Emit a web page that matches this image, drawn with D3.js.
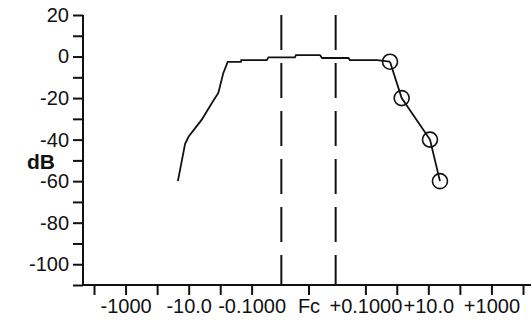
<!DOCTYPE html>
<html>
<head>
<meta charset="utf-8">
<script src="https://cdn.jsdelivr.net/npm/d3@7"></script>
<style>
  body { margin: 0; background: #fff; }
  text { font-family: "Liberation Sans", Arial, sans-serif; fill: #111; }
</style>
</head>
<body>
<svg id="chart"></svg>
<script>
const WIDTH = 531;
const HEIGHT = 323;

// frequency offset ticks (log-like around Fc)
const TICK_VALUES = [-10000, -1000, -100, -10, -1, -0.1, 0, 0.1, 1, 10, 100, 1000, 10000];
const TICK_LABELS = ["", "-1000", "", "-10.0", "", "-0.1000", "Fc", "+0.1000", "", "+10.0", "", "+1000", ""];
const Y_TICKS = [20, 10, 0, -10, -20, -30, -40, -50, -60, -70, -80, -90, -100, -110];

// filter response curve
const curveOffset = [-22, -13, -10, -3.9, -1.7, -1.15, -0.8, -0.58, -0.22, -0.215, -0.032, -0.028, -0.0027, -0.0024, 0.0021, 0.0027, 0.028, 0.031, 0.235, 0.61];
const curveDb = [-60, -42, -38.5, -30.5, -21.5, -17.5, -8, -2.6, -2.6, -1.7, -1.7, -0.4, -0.4, 0.7, 0.7, -0.7, -0.7, -1.7, -1.7, -2.5];

// measured points (circles)
const markOffset = [0.61, 1.43, 11.3, 23.4];
const markDb = [-2.5, -20, -40, -60];

// bandwidth markers
const bandEdges = [-0.01, 0.01];

const svg = d3.select("#chart").attr("width", WIDTH).attr("height", HEIGHT);

const x = d3.scaleSymlog().constant(0.0016).domain([-10000, 10000]).range([94, 523]);
const y = d3.scaleLinear().domain([-110, 20]).range([285, 15]);

// y axis
const yAxis = svg.append("g")
  .attr("transform", "translate(83,0)")
  .call(d3.axisLeft(y).tickValues(Y_TICKS).tickSize(10).tickPadding(4)
    .tickFormat((d) => (d % 20 === 0 ? d : "")));
yAxis.select(".domain").remove();
yAxis.selectAll(".tick line").attr("stroke", "#111").attr("stroke-width", 2);
yAxis.selectAll(".tick text").attr("font-size", 20).attr("fill", "#111")
  .text((d) => (d % 20 === 0 ? String(d) : ""));

svg.append("line")
  .attr("x1", 83).attr("x2", 83).attr("y1", y(20)).attr("y2", y(-110))
  .attr("stroke", "#111").attr("stroke-width", 2);

// x axis
const xAxis = svg.append("g")
  .attr("transform", `translate(0,${y(-110)})`)
  .call(d3.axisBottom(x).tickValues(TICK_VALUES).tickSize(10).tickPadding(4)
    .tickFormat((d, i) => TICK_LABELS[i]));
xAxis.select(".domain").remove();
xAxis.selectAll(".tick line").attr("stroke", "#111").attr("stroke-width", 2);
xAxis.selectAll(".tick text").attr("font-size", 20).attr("fill", "#111");

svg.append("line")
  .attr("x1", 82).attr("x2", WIDTH).attr("y1", y(-110)).attr("y2", y(-110))
  .attr("stroke", "#111").attr("stroke-width", 2);

// dB label
svg.append("text")
  .attr("x", 27).attr("y", 169)
  .attr("font-size", 21).attr("font-weight", "bold")
  .text("dB");

// dashed bandwidth lines
svg.selectAll(".band")
  .data(bandEdges)
  .enter()
  .append("line")
  .attr("class", "band")
  .attr("x1", (d) => x(d)).attr("x2", (d) => x(d))
  .attr("y1", y(20)).attr("y2", y(-110))
  .attr("stroke", "#111").attr("stroke-width", 2)
  .attr("stroke-dasharray", "35,13");

const line = d3.line().x((d) => x(d[0])).y((d) => y(d[1]));

svg.append("path")
  .datum(curveOffset.map((d, i) => [d, curveDb[i]]).concat([[markOffset[0], markDb[0]]]))
  .attr("d", line)
  .attr("fill", "none").attr("stroke", "#111").attr("stroke-width", 1.8);

const marks = markOffset.map((d, i) => [d, markDb[i]]);

svg.append("path")
  .datum(marks)
  .attr("d", line)
  .attr("fill", "none").attr("stroke", "#111").attr("stroke-width", 1.8);

svg.selectAll(".mark")
  .data(marks)
  .enter()
  .append("circle")
  .attr("class", "mark")
  .attr("cx", (d) => x(d[0])).attr("cy", (d) => y(d[1]))
  .attr("r", 7.5)
  .attr("fill", "none").attr("stroke", "#111").attr("stroke-width", 1.6);
</script>
</body>
</html>
